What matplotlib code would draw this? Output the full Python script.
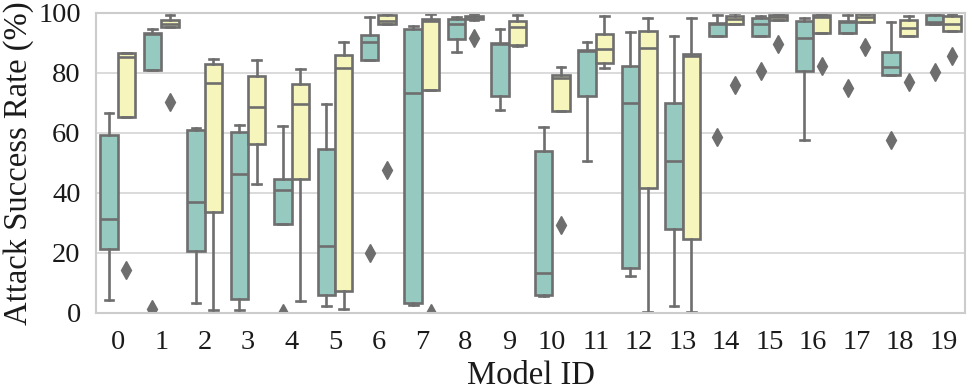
import numpy as np
import matplotlib
matplotlib.use('Agg')
import matplotlib.pyplot as plt

# values (attack success rate, %)
models = list(range(20))

# group A (teal boxes)
a_lo  = [4.4, 81.0, 3.4, 1.1, 29.7, 2.5, 84.3, 2.8, 87.1, 67.7, 5.8, 50.8, 12.2, 2.4, 92.3, 92.4, 57.7, 93.2, 79.3, 96.2]
a_q1  = [21.3, 81.0, 20.7, 4.8, 29.7, 6.1, 84.3, 3.3, 91.2, 72.3, 6.1, 72.4, 15.0, 28.0, 92.3, 92.4, 80.7, 93.2, 79.3, 96.2]
a_med = [31.4, 93.0, 36.9, 46.4, 41.0, 22.2, 90.4, 73.2, 96.5, 89.6, 13.3, 87.3, 69.9, 50.7, 96.2, 96.5, 91.8, 97.0, 82.1, 97.0]
a_q3  = [59.3, 93.4, 60.9, 60.2, 44.7, 54.6, 92.7, 94.8, 97.9, 90.1, 54.1, 87.6, 82.5, 70.1, 96.8, 98.2, 97.4, 97.4, 87.1, 99.3]
a_hi  = [66.8, 94.8, 61.8, 62.7, 62.4, 69.6, 98.7, 95.6, 98.7, 94.6, 62.1, 90.2, 93.7, 92.3, 99.3, 99.0, 98.5, 99.3, 97.0, 99.8]
a_fl  = [[], [1.5], [], [], [0.0], [], [20.0], [], [], [], [], [], [], [], [58.8], [80.7], [], [74.9], [57.7], [80.2]]

# group B (yellow boxes)
b_lo  = [65.4, 95.4, 1.1, 42.9, 3.9, 1.4, 96.3, 74.3, 97.8, 88.9, 67.3, 81.7, 0.5, 0.3, 96.3, 97.6, 93.2, 97.0, 92.3, 94.0]
b_q1  = [65.4, 95.4, 33.8, 56.3, 44.7, 7.5, 96.3, 74.3, 98.1, 89.5, 67.3, 83.2, 41.8, 24.6, 96.3, 97.6, 93.2, 97.0, 92.3, 94.0]
b_med = [85.4, 96.3, 76.7, 68.7, 69.6, 81.7, 97.4, 97.5, 98.6, 95.2, 78.5, 88.0, 88.4, 85.6, 98.0, 98.7, 98.7, 98.7, 95.1, 96.5]
b_q3  = [86.7, 97.6, 82.9, 79.0, 76.3, 86.0, 99.3, 97.9, 99.0, 97.4, 79.3, 92.9, 94.0, 86.3, 98.9, 99.5, 99.3, 99.6, 97.6, 98.9]
b_hi  = [86.7, 99.5, 84.7, 84.3, 81.3, 90.4, 99.6, 99.6, 99.8, 99.5, 82.1, 98.9, 98.2, 98.2, 100.0, 99.8, 99.8, 99.8, 98.9, 99.8]
b_fl  = [[14.4], [70.4], [], [], [], [], [47.7], [0.0], [91.8], [], [29.4], [], [], [], [76.0], [89.6], [82.4], [88.7], [77.1], [85.6]]

teal = '#96cac1'
yellow = '#f6f6bc'
gray = '#6e6e6e'

plt.rcParams['font.family'] = ['Liberation Serif', 'DejaVu Serif']

def make_stats(lo, q1, med, q3, hi, fl):
    return [dict(whislo=lo[i], q1=q1[i], med=med[i], q3=q3[i], whishi=hi[i],
                 fliers=fl[i]) for i in range(len(lo))]

fig = plt.figure(figsize=(9.69, 3.92), dpi=100)
ax = fig.add_axes([96/969, 79/392, 869/969, 300/392])

x = np.arange(len(models))
for stats, off, col in [(make_stats(a_lo, a_q1, a_med, a_q3, a_hi, a_fl), -0.2, teal),
                        (make_stats(b_lo, b_q1, b_med, b_q3, b_hi, b_fl), 0.2, yellow)]:
    ax.bxp(stats, positions=x + off, widths=0.4, patch_artist=True, manage_ticks=False,
           boxprops=dict(facecolor=col, edgecolor=gray, linewidth=1.9),
           medianprops=dict(color=gray, linewidth=1.9),
           whiskerprops=dict(color=gray, linewidth=1.9),
           capprops=dict(color=gray, linewidth=1.9),
           flierprops=dict(marker='d', markersize=9, markerfacecolor=gray,
                           markeredgecolor=gray))

ax.set_xlim(-0.5, 19.5)
ax.set_ylim(0, 100)
ax.set_xticks(x)
ax.set_xticklabels([str(m) for m in models])
ax.set_yticks([0, 20, 40, 60, 80, 100])
ax.tick_params(axis='both', length=0, labelsize=20.5, colors='#1a1a1a')
ax.tick_params(axis='x', pad=12)
ax.tick_params(axis='y', pad=11)
ax.yaxis.grid(True, color='#d4d4d4', linewidth=1.2)
ax.set_axisbelow(True)
for s in ax.spines.values():
    s.set_color('#cccccc')
    s.set_linewidth(1.5)
ax.set_xlabel('Model ID', fontsize=23.5, labelpad=4, color='#1a1a1a')
ax.set_ylabel('Attack Success Rate (%)', fontsize=23.5, labelpad=3, color='#1a1a1a')

fig.savefig('out.png', dpi=100)
